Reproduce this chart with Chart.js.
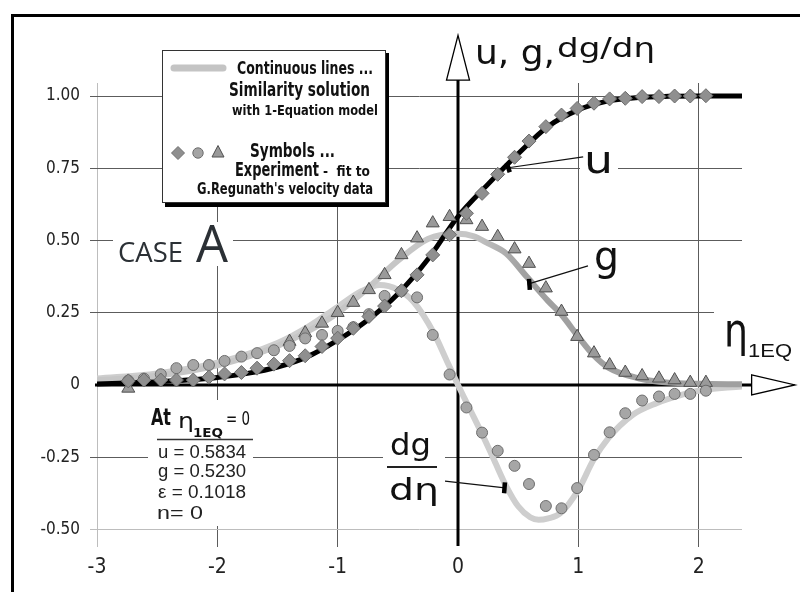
<!DOCTYPE html>
<html><head><meta charset="utf-8">
<script src="https://cdn.jsdelivr.net/npm/chart.js@4"></script>
<style>html,body{margin:0;padding:0;background:#fff}#wrap{position:relative;width:800px;height:592px}</style>
</head><body><div id="wrap"><canvas id="c" width="800" height="592"></canvas></div>
<script>
// ---- experiment points (symbols) ----
const etaExp = [-2.74,-2.61,-2.47,-2.34,-2.20,-2.07,-1.94,-1.80,-1.67,-1.53,-1.40,-1.27,-1.13,-1.00,-0.87,-0.74,-0.61,-0.47,-0.34,-0.21,-0.07,0.07,0.20,0.33,0.47,0.59,0.73,0.86,0.99,1.13,1.26,1.39,1.53,1.67,1.80,1.93,2.06];
const uExp = [0.014,0.017,0.017,0.017,0.017,0.027,0.038,0.043,0.058,0.072,0.084,0.101,0.133,0.162,0.196,0.237,0.273,0.326,0.381,0.450,0.520,0.594,0.663,0.729,0.788,0.844,0.894,0.934,0.957,0.975,0.990,0.992,0.998,0.998,1.000,1.000,1.001];
const dgExp = [0.015,0.022,0.037,0.058,0.069,0.069,0.083,0.098,0.110,0.120,0.135,0.161,0.173,0.187,0.200,0.245,0.308,0.325,0.303,0.173,0.036,-0.078,-0.165,-0.228,-0.280,-0.343,-0.419,-0.427,-0.357,-0.242,-0.164,-0.098,-0.054,-0.040,-0.031,-0.031,-0.020];
const gExp = [-0.012,null,null,null,null,null,null,null,null,null,0.150,0.180,0.213,0.250,0.285,0.329,0.381,0.450,0.508,0.560,0.582,0.571,0.548,0.513,0.470,0.420,0.335,0.254,0.167,0.110,0.069,0.043,0.031,0.023,0.017,0.008,0.008];
// ---- similarity solution (continuous lines) ----
const etaU = [-3,-2.75,-2.5,-2.25,-2,-1.75,-1.5,-1.25,-1,-0.75,-0.5,-0.25,0,0.25,0.5,0.75,1,1.25,1.5,1.75,2,2.36];
const uSim = [0.003,0.007,0.011,0.017,0.026,0.040,0.062,0.098,0.155,0.225,0.315,0.435,0.583,0.695,0.800,0.895,0.952,0.983,0.995,0.999,1.0,1.0];
const etaG = [-3,-2.5,-2,-1.5,-1.25,-1,-0.75,-0.5,-0.25,0,0.125,0.25,0.4,0.57,0.75,0.85,1,1.125,1.25,1.5,1.75,2,2.36];
const gSim = [0.016,0.032,0.068,0.135,0.185,0.25,0.335,0.43,0.505,0.523,0.515,0.49,0.455,0.375,0.29,0.248,0.167,0.104,0.06,0.023,0.008,0.004,0.002];
const etaD = [-3,-2.5,-2,-1.5,-1.25,-1,-0.8,-0.65,-0.5,-0.37,-0.2,-0.1,0,0.1,0.2,0.3,0.4,0.5,0.6,0.67,0.75,0.85,1,1.125,1.25,1.45,1.65,1.85,2,2.36];
const dSim = [0.022,0.04,0.077,0.145,0.2,0.27,0.325,0.346,0.33,0.288,0.179,0.09,0,-0.085,-0.17,-0.26,-0.35,-0.42,-0.458,-0.467,-0.462,-0.444,-0.363,-0.26,-0.184,-0.104,-0.063,-0.035,-0.02,-0.005];
// ---- ticks ----
const xTicks = [-3,-2,-1,0,1,2];
const xTickLabels = ['-3','-2','-1','0','1','2'];
const yTicks = [1,0.75,0.5,0.25,0,-0.25,-0.5];
const yTickLabels = ['1.00','0.75','0.50','0.25','0','-0.25','-0.50'];

const pts = (xs, ys) => xs.map((x, i) => ({x, y: ys[i]}));

const COND = "'Liberation Sans Narrow','Arial Narrow','DejaVu Sans Condensed',sans-serif";
const SANS = "'Liberation Sans',Arial,sans-serif";
const DJ = "'DejaVu Sans',sans-serif";
const HUM = "'Open Sans',Lato,sans-serif";

function fitText(ctx, str, x, y, font, width, color) {
  ctx.save();
  ctx.font = font; ctx.fillStyle = color || '#111';
  ctx.textAlign = 'left'; ctx.textBaseline = 'alphabetic';
  const w = ctx.measureText(str).width;
  ctx.translate(x, y);
  if (width) ctx.scale(width / w, 1);
  ctx.fillText(str, 0, 0);
  ctx.restore();
}

const deco = {
  id: 'deco',
  beforeDatasetsDraw(chart) {
    const {ctx, scales: {x, y}} = chart;
    ctx.save();
    // white backgrounds behind annotation text
    ctx.fillStyle = '#fff';
    ctx.fillRect(113, 222, 120, 44);   // CASE A
    ctx.fillRect(148, 400, 105, 126);  // At eta = 0 block
    ctx.fillRect(383, 426, 62, 102);   // dg/deta
    ctx.fillRect(580, 148, 38, 28);    // u
    ctx.fillRect(714, 306, 80, 68);    // eta_1EQ
    // axes
    const x0 = x.getPixelForValue(0), y0 = y.getPixelForValue(0);
    ctx.strokeStyle = '#000'; ctx.lineWidth = 3; ctx.lineCap = 'butt';
    ctx.beginPath(); ctx.moveTo(95, y0); ctx.lineTo(x.getPixelForValue(2.44), y0); ctx.stroke();
    ctx.beginPath(); ctx.moveTo(x0, 546); ctx.lineTo(x0, y.getPixelForValue(1.055)); ctx.stroke();
    // arrow heads
    ctx.lineWidth = 1.3; ctx.fillStyle = '#fff';
    const bx = x.getPixelForValue(2.44), tx = x.getPixelForValue(2.80);
    ctx.beginPath(); ctx.moveTo(bx, y0 - 10); ctx.lineTo(tx, y0); ctx.lineTo(bx, y0 + 10); ctx.closePath(); ctx.fill(); ctx.stroke();
    const by = y.getPixelForValue(1.055), ty = y.getPixelForValue(1.21);
    ctx.beginPath(); ctx.moveTo(x0 - 11.5, by); ctx.lineTo(x0, ty); ctx.lineTo(x0 + 11.5, by); ctx.closePath(); ctx.fill(); ctx.stroke();
    ctx.restore();
  },
  afterDatasetsDraw(chart) {
    const {ctx, scales: {x, y}} = chart;
    const P = (a, b) => [x.getPixelForValue(a), y.getPixelForValue(b)];
    ctx.save();
    // leader lines and tick marks on curves
    const leader = (a, b, m1, m2) => {
      ctx.strokeStyle = '#111'; ctx.lineWidth = 1.2;
      ctx.beginPath(); ctx.moveTo(...a); ctx.lineTo(...b); ctx.stroke();
      ctx.lineWidth = 4.5; ctx.strokeStyle = '#000';
      ctx.beginPath(); ctx.moveTo(...m1); ctx.lineTo(...m2); ctx.stroke();
    };
    leader(P(0.39, 0.75), P(1.04, 0.789), P(0.405, 0.768), P(0.43, 0.736));
    leader(P(0.58, 0.349), P(1.08, 0.412), P(0.59, 0.367), P(0.597, 0.329));
    leader(P(-0.108, -0.333), P(0.39, -0.356), P(0.39, -0.337), P(0.383, -0.375));

    // legend box
    ctx.fillStyle = '#000'; ctx.fillRect(165, 53, 224, 154);
    ctx.fillStyle = '#fff'; ctx.fillRect(162, 50, 224, 153);
    ctx.strokeStyle = '#333'; ctx.lineWidth = 1; ctx.strokeRect(162.5, 50.5, 223, 152);
    ctx.strokeStyle = '#c4c4c4'; ctx.lineWidth = 7; ctx.lineCap = 'round';
    ctx.beginPath(); ctx.moveTo(174, 68); ctx.lineTo(223, 68); ctx.stroke();
    ctx.lineCap = 'butt';
    ctx.fillStyle = '#8f8f8f'; ctx.strokeStyle = '#707070'; ctx.lineWidth = 1;
    ctx.beginPath(); ctx.moveTo(178, 146.5); ctx.lineTo(184.5, 153); ctx.lineTo(178, 159.5); ctx.lineTo(171.5, 153); ctx.closePath(); ctx.fill(); ctx.stroke();
    ctx.fillStyle = '#a4a4a4'; ctx.strokeStyle = '#6d6d6d';
    ctx.beginPath(); ctx.arc(198, 153, 5.2, 0, Math.PI * 2); ctx.fill(); ctx.stroke();
    ctx.fillStyle = '#999'; ctx.strokeStyle = '#505050';
    ctx.beginPath(); ctx.moveTo(218, 145.5); ctx.lineTo(224, 157); ctx.lineTo(212, 157); ctx.closePath(); ctx.fill(); ctx.stroke();
    fitText(ctx, 'Continuous lines ...', 237, 74, 'bold 18px ' + COND, 136);
    fitText(ctx, 'Similarity solution', 229, 96, 'bold 20px ' + COND, 141);
    fitText(ctx, 'with 1-Equation model', 232, 115, 'bold 14px ' + COND, 146);
    fitText(ctx, 'Symbols ...', 250, 157, 'bold 19px ' + COND, 85);
    fitText(ctx, 'Experiment', 235, 176, 'bold 19px ' + COND, 84);
    fitText(ctx, '-  fit to', 323, 176, 'bold 14px ' + COND, 47);
    fitText(ctx, "G.Regunath's velocity data", 197, 194, 'bold 16px ' + COND, 176);

    // CASE A
    fitText(ctx, 'CASE', 118, 262, '27px ' + HUM, 65, '#2b3035');
    fitText(ctx, 'A', 196, 262, '51px ' + HUM, 32, '#2b3035');

    // axis titles
    fitText(ctx, 'u, g,', 475, 64, '33px ' + DJ, 80, '#111');
    fitText(ctx, 'dg/dη', 557, 57, '26px ' + DJ, 98, '#111');
    fitText(ctx, 'η', 724, 346, '46px ' + DJ, 24, '#111');
    fitText(ctx, '1EQ', 748, 357, '19px ' + SANS, 44, '#111');

    // curve labels
    fitText(ctx, 'u', 584, 173, '38px ' + DJ, 29, '#111');
    fitText(ctx, 'g', 594, 270, '40px ' + DJ, 25, '#111');
    fitText(ctx, 'dg', 390, 455, '30px ' + DJ, 41, '#111');
    ctx.strokeStyle = '#222'; ctx.lineWidth = 2;
    ctx.beginPath(); ctx.moveTo(387, 467); ctx.lineTo(437, 467); ctx.stroke();
    fitText(ctx, 'dη', 389, 500, '30px ' + DJ, 50, '#111');

    // At eta_1EQ = 0 block
    fitText(ctx, 'At', 151, 425, 'bold 23px ' + COND, 20, '#111');
    fitText(ctx, 'η', 178, 428, '22px ' + DJ, 16, '#111');
    fitText(ctx, '1EQ', 193, 437, 'bold 13px ' + COND, 30, '#111');
    fitText(ctx, '= 0', 226, 425, '20px ' + COND, 24, '#111');
    ctx.strokeStyle = '#333'; ctx.lineWidth = 1.5;
    ctx.beginPath(); ctx.moveTo(157, 439.5); ctx.lineTo(253, 439.5); ctx.stroke();
    fitText(ctx, 'u = 0.5834', 158, 458, '18px ' + SANS, 88, '#222');
    fitText(ctx, 'g = 0.5230', 158, 477, '18px ' + SANS, 88, '#222');
    fitText(ctx, 'ε = 0.1018', 158, 498, '18px ' + SANS, 88, '#222');
    fitText(ctx, 'n= 0', 157, 519, '18px ' + SANS, 46, '#222');

    // outer frame
    ctx.fillStyle = '#000';
    ctx.fillRect(11, 14, 3, 578);
    ctx.fillRect(11, 14, 789, 3);
    ctx.restore();
  }
};

new Chart(document.getElementById('c'), {
  type: 'scatter',
  data: {
    datasets: [
      {label: 'u exp', data: pts(etaExp, uExp), order: 0, pointStyle: 'rectRot', pointRadius: 7,
       backgroundColor: '#8f8f8f', borderColor: '#6a6a6a', borderWidth: 1},
      {label: 'dg exp', data: pts(etaExp, dgExp), order: 1, pointStyle: 'circle', pointRadius: 5.5,
       backgroundColor: '#a6a6a6', borderColor: '#6d6d6d', borderWidth: 1},
      {label: 'g exp', data: pts(etaExp, gExp), order: 2, pointStyle: 'triangle', pointRadius: 7.5,
       backgroundColor: '#9a9a9a', borderColor: '#505050', borderWidth: 1},
      {label: 'u', data: pts(etaU, uSim), order: 3, showLine: true, pointRadius: 0,
       borderColor: '#000', borderWidth: 5, cubicInterpolationMode: 'monotone'},
      {label: 'g', data: pts(etaG, gSim), order: 4, showLine: true, pointRadius: 0, borderWidth: 6,
       cubicInterpolationMode: 'monotone', borderCapStyle: 'round',
       borderColor: (c) => {
         const ch = c.chart; if (!ch.chartArea) return '#aaa';
         const sx = ch.scales.x;
         const gr = ch.ctx.createLinearGradient(sx.getPixelForValue(0.1), 0, sx.getPixelForValue(0.55), 0);
         gr.addColorStop(0, '#c6c6c6'); gr.addColorStop(1, '#a0a0a0');
         return gr;
       }},
      {label: 'dg/deta', data: pts(etaD, dSim), order: 5, showLine: true, pointRadius: 0,
       borderColor: '#cecece', borderWidth: 6, cubicInterpolationMode: 'monotone', borderCapStyle: 'round'}
    ]
  },
  options: {
    responsive: false, animation: false, devicePixelRatio: 1,
    layout: {padding: {left: 0, top: 83, right: 58, bottom: 0}},
    plugins: {legend: {display: false}, tooltip: {enabled: false}},
    scales: {
      x: {
        type: 'linear', min: -3, max: 2.36,
        afterBuildTicks: (s) => { s.ticks = xTicks.map(v => ({value: v})); },
        afterFit: (s) => { s.height = 47; },
        border: {display: false},
        grid: {lineWidth: 1, tickLength: 2,
          color: (c) => c.tick && c.tick.value === -3 ? '#bdbdbd' : (c.tick && c.tick.value === 0 ? 'rgba(0,0,0,0)' : '#5c5c5c')},
        ticks: {callback: (v) => xTickLabels[xTicks.indexOf(v)], autoSkip: false, maxRotation: 0,
          padding: 8, color: '#222', font: {family: COND, size: 21}}
      },
      y: {
        type: 'linear', min: -0.554, max: 1.045,
        afterBuildTicks: (s) => { s.ticks = yTicks.map(v => ({value: v})); },
        afterFit: (s) => { s.width = 97; },
        border: {display: false},
        grid: {lineWidth: 1, tickLength: 7,
          color: (c) => c.tick && c.tick.value === -0.5 ? '#bdbdbd' : (c.tick && c.tick.value === 0 ? 'rgba(0,0,0,0)' : '#5c5c5c')},
        ticks: {callback: (v) => yTickLabels[yTicks.indexOf(v)], autoSkip: false,
          padding: 10, color: '#222', font: {family: COND, size: 17}}
      }
    }
  },
  plugins: [deco]
});
</script></body></html>
